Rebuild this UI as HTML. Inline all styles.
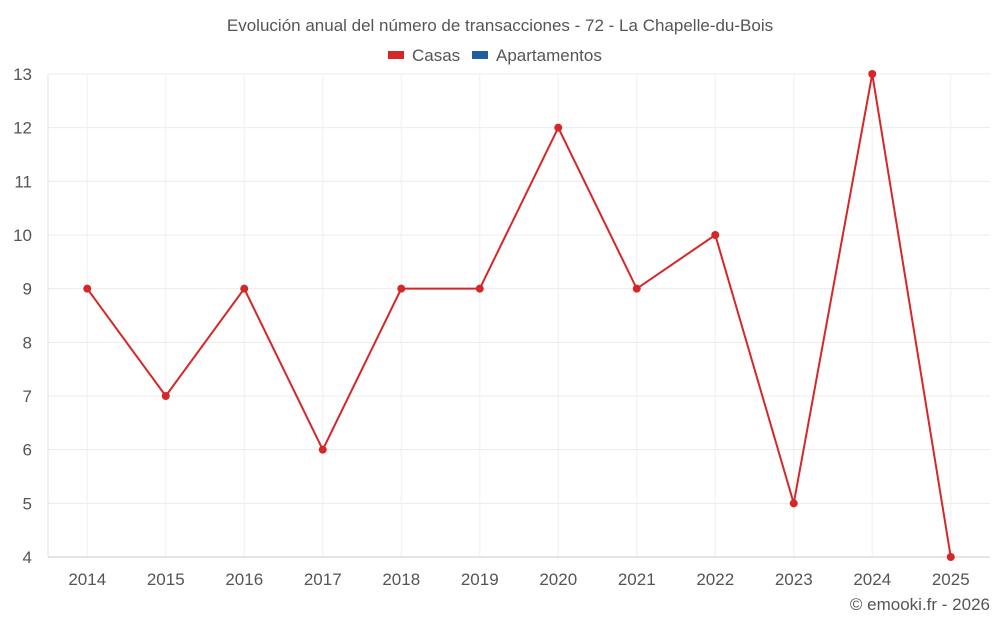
<!DOCTYPE html>
<html><head><meta charset="utf-8"><style>
html,body{margin:0;padding:0;background:#fff;}
svg{display:block;font-family:"Liberation Sans",sans-serif;}
</style></head><body>
<svg id="chart" width="1000" height="625" viewBox="0 0 1000 625" xmlns="http://www.w3.org/2000/svg">
<text x="500" y="31" text-anchor="middle" font-size="17" fill="#555">Evolución anual del número de transacciones - 72 - La Chapelle-du-Bois</text>
<g>
<g><rect x="388" y="51" width="16" height="8" fill="#d62728"/><text x="412" y="61" font-size="17" fill="#555">Casas</text></g>
<g><rect x="472" y="51" width="16" height="8" fill="#1f5fa0"/><text x="496" y="61" font-size="17" fill="#555">Apartamentos</text></g>
</g>
<g id="grid"></g>
<g id="axes"></g>
<g id="series"></g>
<text x="990" y="610" text-anchor="end" font-size="17" fill="#555">© emooki.fr - 2026</text>
</svg>
<script>
const categories = ["2014","2015","2016","2017","2018","2019","2020","2021","2022","2023","2024","2025"];
const casasValues = [9,7,9,6,9,9,12,9,10,5,13,4];
const yTicks = [4,5,6,7,8,9,10,11,12,13];
const NS="http://www.w3.org/2000/svg";
const L=48,R=990,T=74,B=557,yMin=4,yMax=13;
const band=(R-L)/categories.length;
const x=i=>L+band*(i+0.5);
const y=v=>B-(v-yMin)/(yMax-yMin)*(B-T);
function mk(tag,attrs,parent){const e=document.createElementNS(NS,tag);for(const k in attrs)e.setAttribute(k,attrs[k]);parent.appendChild(e);return e;}
const grid=document.getElementById('grid'),axes=document.getElementById('axes'),series=document.getElementById('series');
yTicks.forEach(v=>{
  const ln=mk('line',{x1:L,x2:R,y1:y(v),y2:y(v),stroke:'#ececec','stroke-width':1},grid);
  
  
  const t=mk('text',{x:32,y:y(v)+6,'text-anchor':'end','font-size':17,fill:'#555'},axes);
  t.textContent=v;
  
  
});
categories.forEach((c,i)=>{
  const ln=mk('line',{x1:x(i),x2:x(i),y1:T,y2:B,stroke:'#f0f0f0','stroke-width':1},grid);
  
  
  const t=mk('text',{x:x(i),y:585,'text-anchor':'middle','font-size':17,fill:'#555'},axes);
  t.textContent=c;
  
  
});
const la=mk('line',{x1:L,x2:L,y1:T,y2:B,stroke:'#e0e0e0'},axes);


const xa=mk('line',{x1:L,x2:R,y1:B,y2:B,stroke:'#ccc'},axes);


const pts=casasValues.map((v,i)=>x(i)+','+y(v)).join(' ');
const pl=mk('polyline',{points:pts,fill:'none',stroke:'#d62728','stroke-width':2},series);


casasValues.forEach((v,i)=>{
  const c=mk('circle',{cx:x(i),cy:y(v),r:4,fill:'#d62728'},series);
  
  
});
</script>
</body></html>
